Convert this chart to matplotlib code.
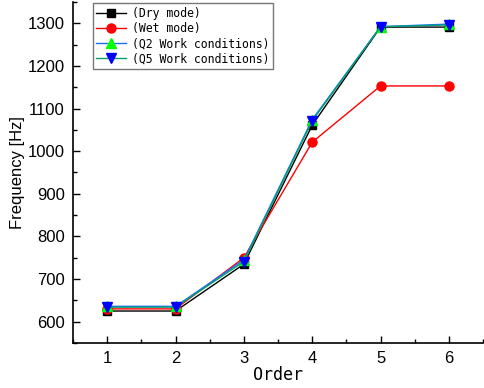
import matplotlib
matplotlib.use("Agg")
import matplotlib.pyplot as plt
from matplotlib.ticker import MultipleLocator

order = [1, 2, 3, 4, 5, 6]
dry = [625, 625, 735, 1061, 1291, 1291]
wet = [630, 630, 750, 1021, 1153, 1153]
q2 = [636, 636, 745, 1074, 1292, 1298]
q5 = [634, 634, 741, 1071, 1292, 1296]
labels = ["(Dry mode)", "(Wet mode)", "(Q2 Work conditions)", "(Q5 Work conditions)"]

fig = plt.figure(figsize=(4.84, 3.88), dpi=100)
ax = fig.add_axes([0.151, 0.116, 0.847, 0.879])

ax.plot(order, dry, color="#000000", marker="s", ms=5.5, lw=1.0, label=labels[0])
ax.plot(order, wet, color="#ff0000", marker="o", ms=6.5, lw=1.0, label=labels[1])
ax.plot(order, q2, color="#1a6cff", marker="^", ms=6.5, lw=1.0, mfc="#00ff00", mec="#00ff00", label=labels[2])
ax.plot(order, q5, color="#00a070", marker="v", ms=6.5, lw=1.0, mfc="#0000ff", mec="#0000ff", label=labels[3])

ax.set_xlim(0.5, 6.5)
ax.set_ylim(550, 1350)
ax.xaxis.set_major_locator(MultipleLocator(1))
ax.xaxis.set_minor_locator(MultipleLocator(0.5))
ax.yaxis.set_major_locator(MultipleLocator(100))
ax.yaxis.set_minor_locator(MultipleLocator(50))
ax.tick_params(which="both", direction="in", width=1.0)
ax.tick_params(which="major", length=5, labelsize=12, pad=6)
ax.tick_params(which="minor", length=3)
for lab in ax.get_xticklabels() + ax.get_yticklabels():
    lab.set_family("Liberation Sans")
ax.spines["top"].set_visible(False)
ax.spines["right"].set_visible(False)
for s in ["left", "bottom"]:
    ax.spines[s].set_linewidth(1.2)

ax.set_xlabel("Order", family="DejaVu Sans Mono", fontsize=12, labelpad=0)
ax.set_ylabel("Frequency [Hz]", family="Liberation Sans", fontsize=12, labelpad=2)

leg = ax.legend(loc="upper left", bbox_to_anchor=(0.045, 1.0), prop={"family": "DejaVu Sans Mono", "size": 8.3},
                frameon=True, fancybox=False, edgecolor="#555555", handlelength=2.6,
                borderpad=0.3, labelspacing=0.2, handletextpad=0.5, borderaxespad=0.1)
leg.get_frame().set_linewidth(1.0)

fig.savefig("out.png", dpi=100)
